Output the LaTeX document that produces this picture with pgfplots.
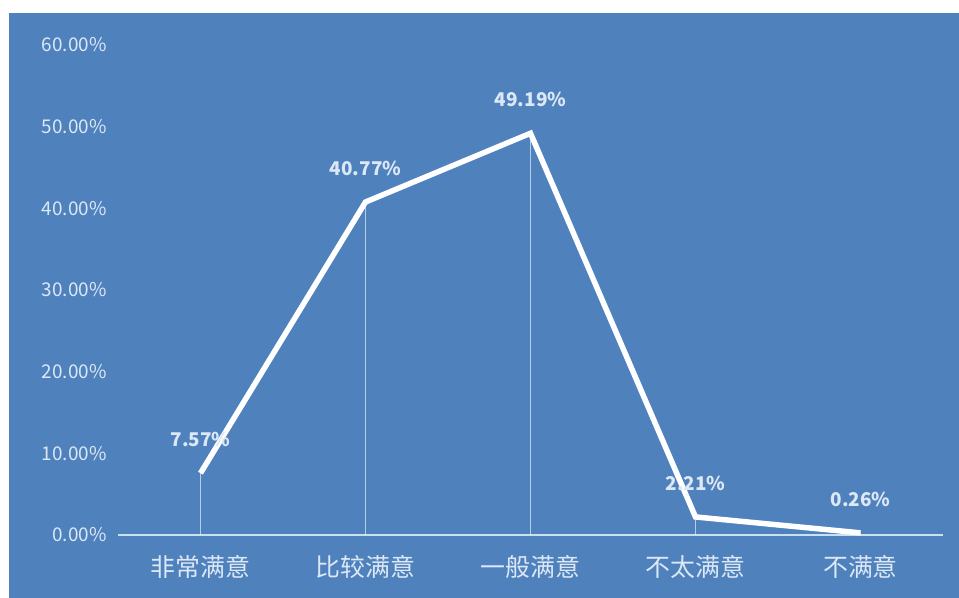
\documentclass[border=0pt]{standalone}
\usepackage{fontspec}
\setmainfont{Noto Sans CJK SC}
\usepackage{pgfplots}
\pgfplotsset{compat=1.18}
\definecolor{bgblue}{RGB}{79,129,189}
\definecolor{ticktxt}{RGB}{220,232,245}
\definecolor{axisline}{RGB}{200,225,240}
\begin{document}
\begin{tikzpicture}[x=1bp,y=1bp]
\fill[white] (0,0) rectangle (959,598);
\fill[bgblue] (9,0) rectangle (959,585);
\path[use as bounding box] (0,0) rectangle (959,598);
\begin{axis}[
  at={(118bp,63bp)}, anchor=south west,
  scale only axis, width=825bp, height=490bp,
  xmin=-0.5, xmax=4.5, ymin=0, ymax=60,
  axis line style={draw=none},
  axis x line*=bottom, axis y line*=left,
  xtick=data,
  xticklabels={非常满意,比较满意,一般满意,不太满意,不满意},
  ytick={0,10,...,60},
  yticklabel={\pgfmathprintnumber[fixed,fixed zerofill,precision=2]{\tick}\%},
  /pgf/number format/assume math mode=true,
  major tick length=0pt,
  yticklabel style={font=\fontsize{19}{21}\selectfont, text=ticktxt, xshift=-8bp},
  xticklabel style={font=\fontsize{25}{27}\selectfont, text=ticktxt, yshift=-17bp},
  clip=false,
  nodes near coords={\pgfmathprintnumber[fixed,fixed zerofill,precision=2]{\pgfplotspointmeta}\%},
  nodes near coords style={font=\bfseries\fontsize{19}{21}\selectfont, text=ticktxt, anchor=south, yshift=20bp},
]
\draw[axisline, line width=1.5bp] (axis cs:-0.5,0) -- (axis cs:4.5,0);
\addplot[white, opacity=0.6, line width=0.6bp, ycomb, nodes near coords={}] coordinates {(0,7.57) (1,40.77) (2,49.19) (3,2.21) (4,0.26)};
\addplot[white, line width=5.5bp, line join=miter] coordinates {(0,7.57) (1,40.77) (2,49.19) (3,2.21) (4,0.26)};
\end{axis}
\end{tikzpicture}
\end{document}
